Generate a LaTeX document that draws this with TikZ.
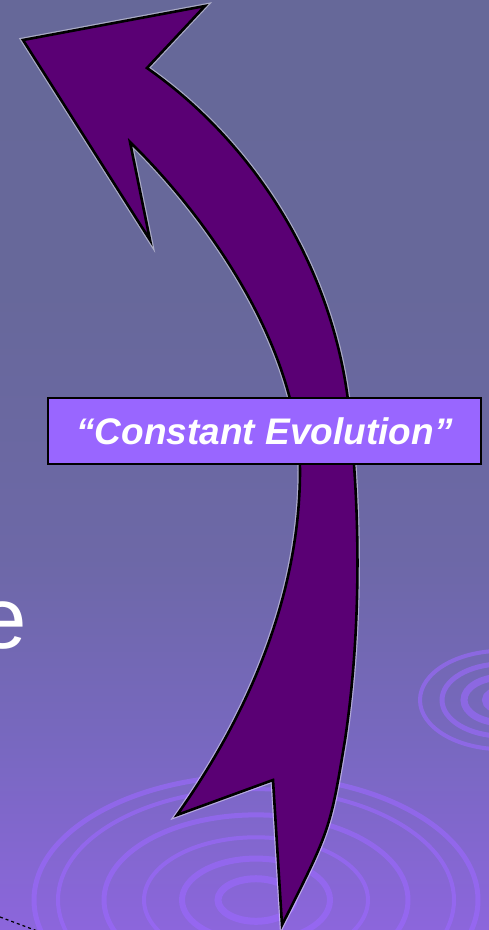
\documentclass[tikz,border=0pt]{standalone}
\usepackage{fontspec}
\setmainfont{Liberation Sans}
\usetikzlibrary{positioning}
\definecolor{bgTop}{HTML}{666899}
\definecolor{bgUpper}{HTML}{67689A}
\definecolor{bgMid}{HTML}{6D68A7}
\definecolor{bgLow}{HTML}{7868C0}
\definecolor{bgBottom}{HTML}{8C66DC}
\definecolor{arrowPurple}{HTML}{5A0074}
\definecolor{tagViolet}{HTML}{9966FF}
\definecolor{rippleViolet}{HTML}{9C68FF}
\pgfdeclareverticalshading{slidebg}{100bp}{color(0bp)=(bgBottom); color(25bp)=(bgBottom);
  color(35bp)=(bgLow); color(45bp)=(bgMid); color(60bp)=(bgUpper);
  color(75bp)=(bgTop); color(100bp)=(bgTop)}
\tikzset{
  arrowbody/.style={fill=arrowPurple, draw=black, line width=2.6pt, line join=miter,
                    preaction={draw=white, line width=5pt, opacity=.45}},
  ripple/.style={draw=rippleViolet, line width=#1, opacity=.6},
  ripple/.default=5pt,
  tagbox/.style={draw=black, line width=2pt, fill=tagViolet, text=white,
                 font=\fontsize{37}{40}\selectfont\bfseries\itshape,
                 minimum width=433pt, minimum height=66pt, inner sep=0pt},
}

\begin{document}
\begin{tikzpicture}[x=1pt, y=-1pt]
    \useasboundingbox (0,0) rectangle (489,930);
    \shade[shading=slidebg] (0,0) rectangle (489,930);
    \clip (0,0) rectangle (489,930);
    % ripples
    \foreach \rx/\w in {222/5pt, 198/4pt, 152/5pt, 112/4pt, 74/6pt, 38/7pt}
      \draw[ripple=\w] (256,900) ellipse ({\rx} and {0.56*\rx});
    \foreach \rx/\w in {82/4pt, 60/5pt, 38/7pt, 16/8pt}
      \draw[ripple=\w] (502,700) ellipse ({\rx} and {0.6*\rx});
    \draw[dashed, line width=1.2pt] (0,917) -- (40,932);
    % leftover letter
    \node[font=\fontsize{87}{90}\selectfont, text=white, anchor=base east,
      inner sep=0pt] (eLetter) at (27,648) {e};
    % the arrow
    \path[arrowbody] (23,40) -- (205,6) -- (147,68)
      .. controls (250,140) and (330,260) .. (348,400)
      .. controls (362,520) and (360,640) .. (345,740)
      .. controls (330,830) .. (282,925)
      -- (273,780) -- (177,815)
      .. controls (236,732) and (300,610) .. (300,470)
      .. controls (298,340) and (200,210) .. (130,142)
      -- (150,240) -- cycle;
    \node[tagbox] (tag) at (264.5,431) {“Constant Evolution”};
  \end{tikzpicture}
\end{document}
